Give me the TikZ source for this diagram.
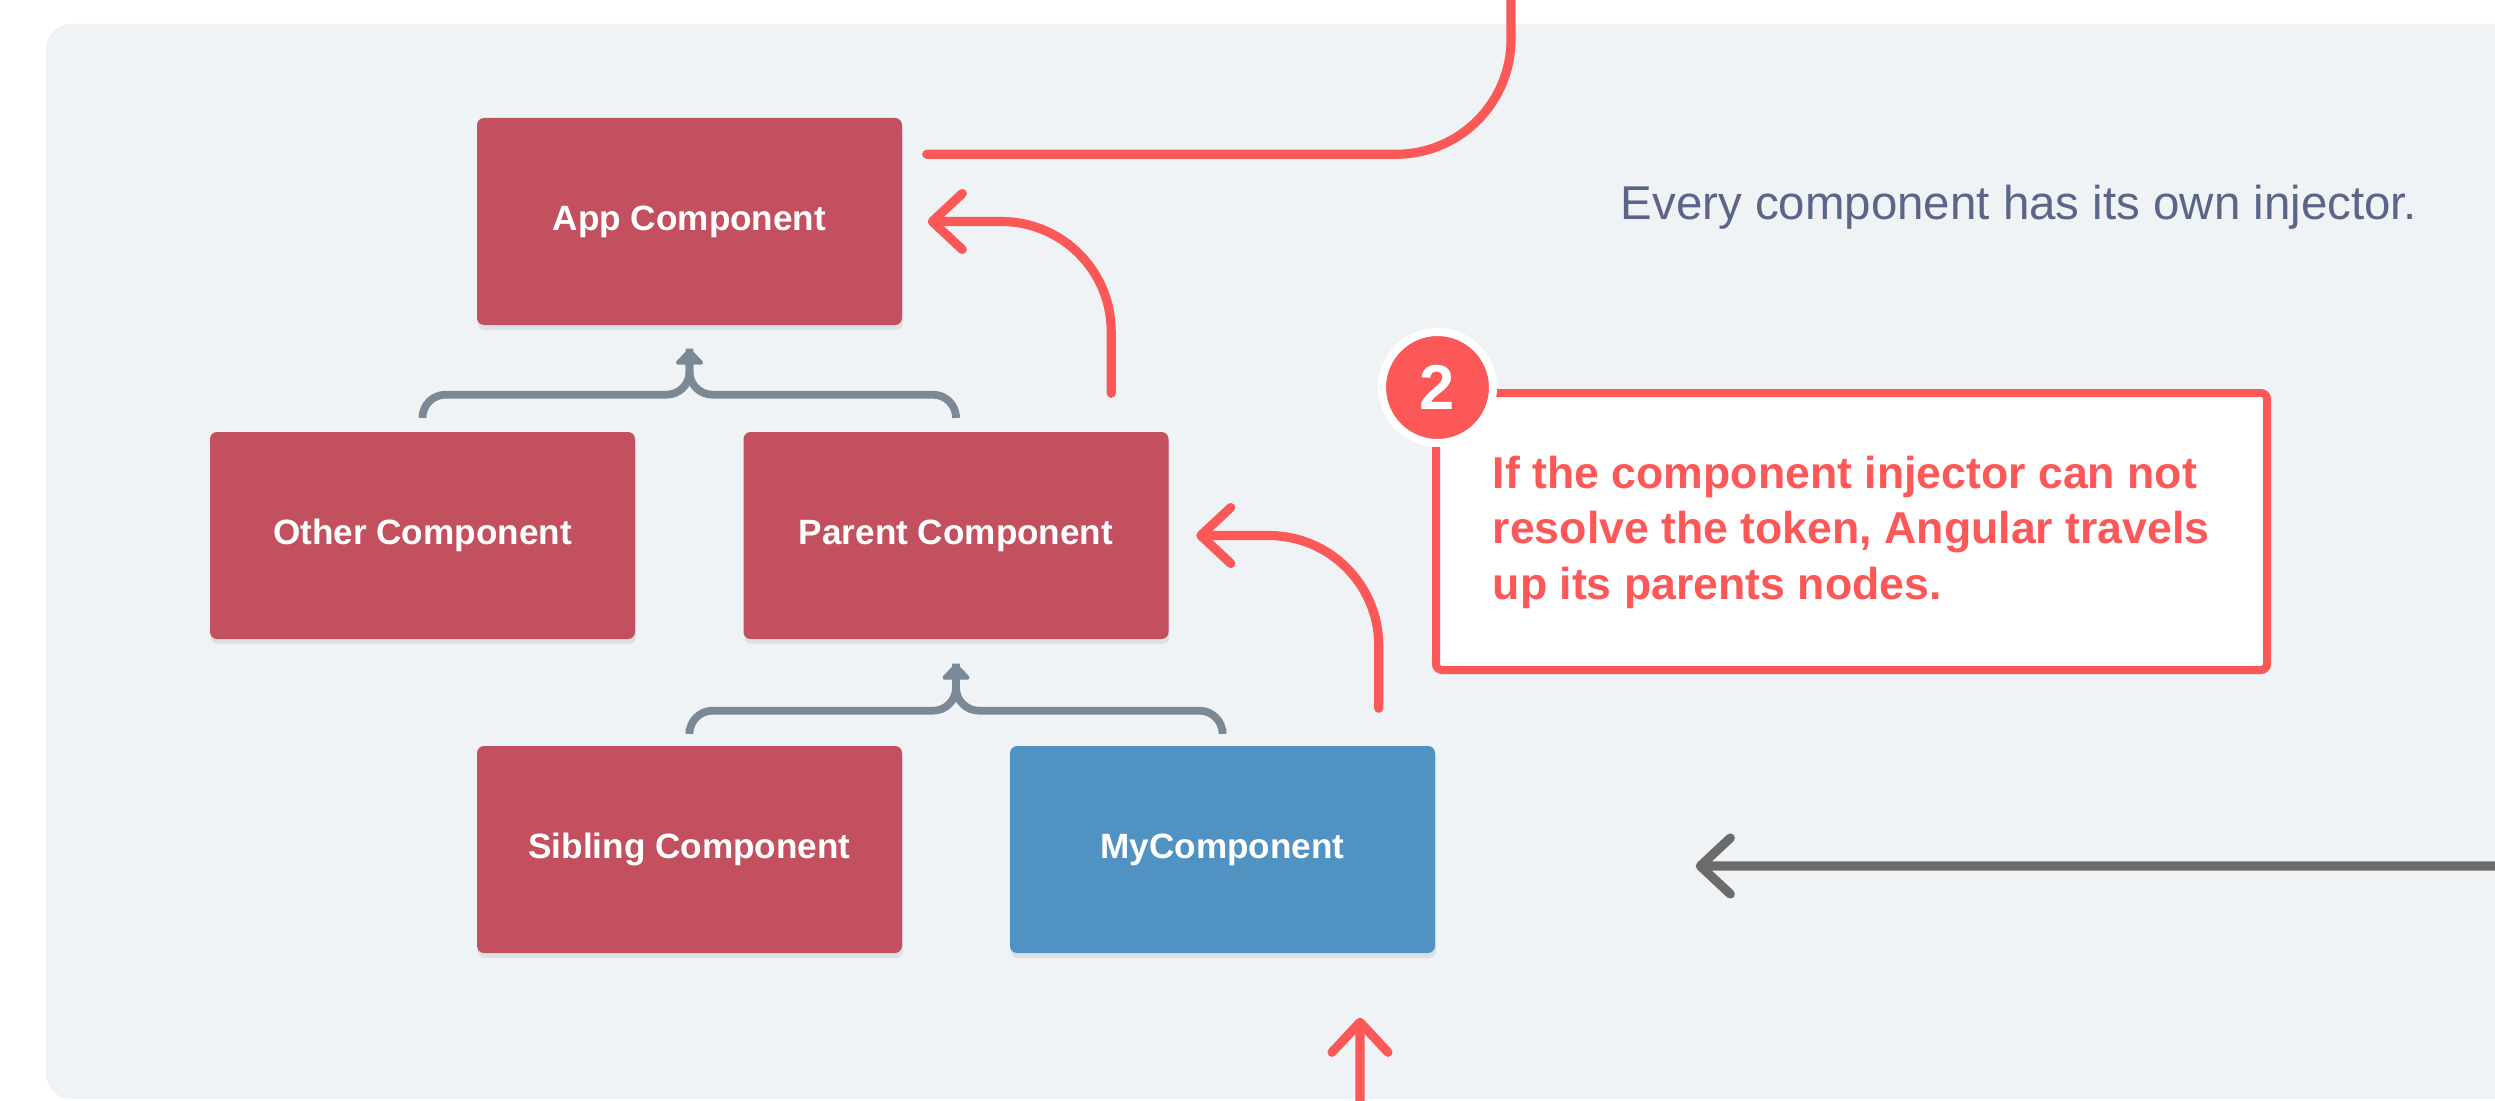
\documentclass[tikz,border=0pt]{standalone}
\usepackage{fontspec}
\setmainfont{Liberation Sans}
\usepackage{tikz}
\usetikzlibrary{positioning,arrows.meta,shadows}
\definecolor{panelbg}{HTML}{EFF3F6}
\definecolor{compred}{HTML}{C2505E}
\definecolor{compblue}{HTML}{5093C3}
\definecolor{linkred}{HTML}{FC5858}
\definecolor{bracegray}{HTML}{7B8896}
\definecolor{flowgray}{HTML}{6B6B6B}
\definecolor{introtext}{HTML}{5A6587}

\begin{document}
\begin{tikzpicture}[
  comp/.style={rectangle, rounded corners=0.07cm, minimum width=4.25cm, minimum height=2.07cm,
    fill=compred, text=white, font=\bfseries\fontsize{10}{12}\selectfont,
    drop shadow={opacity=0.15, shadow xshift=0.01cm, shadow yshift=-0.05cm}},
  brace/.style={draw=bracegray, line width=2.2pt, rounded corners=0.23cm},
  redline/.style={draw=linkred, line width=2.6pt, line cap=round},
  barb/.style={-{Straight Barb[length=0.3cm, width=0.56cm, round]}},
  notebox/.style={rectangle, draw=linkred, fill=white, line width=0.08cm, rounded corners=0.06cm,
    minimum width=8.31cm, minimum height=2.77cm}
]
\useasboundingbox (0,0) rectangle (24.95,-11);
\clip (0,0) rectangle (24.95,-11);
\fill[panelbg, rounded corners=0.25cm] (0.46,-0.24) rectangle (25.5,-10.99);

% component tree
\node[comp] (app) at (6.895,-2.215) {App Component};
\node[comp] (other) at (4.225,-5.355) {Other Component};
\node[comp] (parent) at (9.56,-5.355) {Parent Component};
\node[comp] (sibling) at (6.895,-8.495) {Sibling Component};
\node[comp, fill=compblue] (mycomp) at (12.225,-8.495) {MyComponent};

% child -> parent braces
\draw[brace] ([yshift=0.17cm]other.north) |- ([yshift=-0.69cm]app.south) -- ([yshift=-0.23cm]app.south);
\draw[brace, -{Triangle[length=0.17cm, width=0.32cm, round]}] ([yshift=0.17cm]parent.north) |- ([yshift=-0.69cm]app.south) -- ([yshift=-0.23cm]app.south);
\draw[brace] ([yshift=0.17cm]sibling.north) |- ([yshift=-0.71cm]parent.south) -- ([yshift=-0.24cm]parent.south);
\draw[brace, -{Triangle[length=0.17cm, width=0.32cm, round]}] ([yshift=0.17cm]mycomp.north) |- ([yshift=-0.71cm]parent.south) -- ([yshift=-0.24cm]parent.south);

% lookup path
\draw[redline, barb, rounded corners=1.1cm] ([xshift=-0.57cm,yshift=0.37cm]mycomp.north east) |- ([xshift=0.27cm]parent.east);
\draw[redline, barb, rounded corners=1.1cm] ([xshift=-0.58cm,yshift=0.38cm]parent.north east) |- ([xshift=0.25cm]app.east);
\coordinate (topout) at (15.11,0.3);
\draw[redline, rounded corners=1.15cm] ([xshift=0.24cm,yshift=-0.37cm]app.north east) -| (topout);
\coordinate (botin) at (13.6,-11.4);
\draw[redline, barb] (botin) -- ([xshift=1.375cm,yshift=-0.64cm]mycomp.south);
\coordinate (rightin) at (25.4,-8.66);
\draw[redline, draw=flowgray, barb] (rightin) -- ([xshift=2.6cm,yshift=-0.165cm]mycomp.east);

% notes
\node[anchor=base west, inner sep=0, text=introtext, font=\fontsize{13.5}{16}\selectfont] (intro) at (16.20,-2.19) {Every component has its own injector.};
\node[notebox] (note) at (18.515,-5.315) {};
\node[anchor=north west, inner sep=0, align=left, text=linkred, font=\bfseries\fontsize{12.7}{15.9}\selectfont] (notetext) at (14.92,-4.55)
  {If the component injector can not\\resolve the token, Angular travels\\up its parents nodes.};
\node[circle, fill=linkred, draw=white, line width=0.08cm, minimum size=1.11cm, inner sep=0,
  text=white, font=\bfseries\fontsize{18}{18}\selectfont] (badge) at (14.375,-3.875) {2};
\end{tikzpicture}
\end{document}
